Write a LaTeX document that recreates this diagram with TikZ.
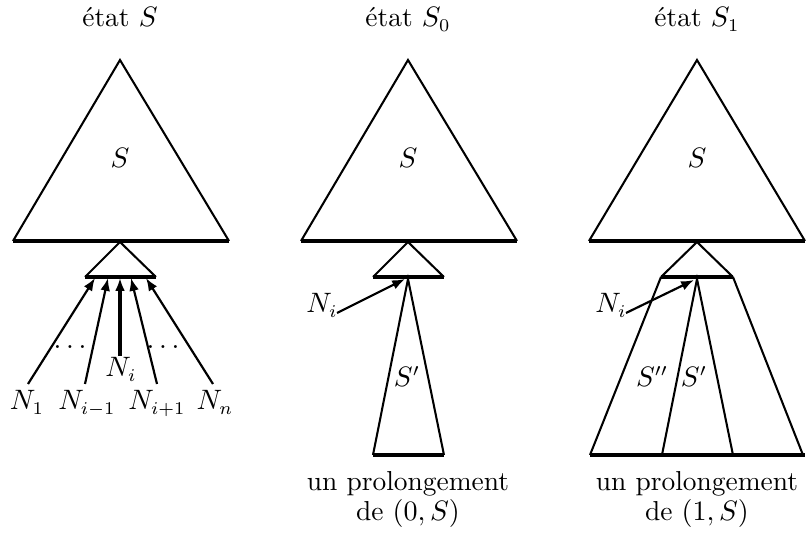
\documentclass[tikz,border=0pt]{standalone}
\usetikzlibrary{arrows.meta}
\begin{document}
\begin{tikzpicture}[x=0.39pt,y=-0.39pt,
  font=\fontsize{10.7}{13}\selectfont,
  edge/.style={line width=0.8pt,line join=miter},
  basel/.style={line width=1.5pt},
  arr/.style={line width=0.85pt,-{Latex[length=5pt,width=3.8pt]}},
  lbl/.style={inner sep=0pt,anchor=base}]
\useasboundingbox (0,0) rectangle (806,540);

% ---------- panel 1 ----------
\node[lbl] (t1) at (120,27) {état $S$};
\coordinate (A1) at (120,60);
\coordinate (L1) at (13,241);
\coordinate (R1) at (229,241);
\draw[edge] (L1) -- (A1) -- (R1);
\draw[basel] (L1) -- (R1);
\node[lbl] (S1) at (120,168) {$S$};
\coordinate (a1) at (120,242);
\coordinate (l1) at (85,277);
\coordinate (r1) at (156,277);
\draw[edge] (l1) -- (a1) -- (r1);
\draw[basel] (l1) -- (r1);
\node[lbl] (n1) at (27,410) {$N_1$};
\node[lbl] (n2) at (87,410) {$N_{i-1}$};
\node[lbl] (n3) at (121,377) {$N_i$};
\node[lbl] (n4) at (157,410) {$N_{i+1}$};
\node[lbl] (n5) at (215,410) {$N_n$};
\coordinate (s1) at (28,384);
\coordinate (s2) at (85,384);
\coordinate (s3) at (120,356);
\coordinate (s4) at (157,384);
\coordinate (s5) at (213,384);
\coordinate (e1) at (95,278);
\coordinate (e2) at (108,278);
\coordinate (e3) at (120,278);
\coordinate (e4) at (131,278);
\coordinate (e5) at (146,278);
\draw[arr] (s1) -- (e1);
\draw[arr] (s2) -- (e2);
\draw[arr,line width=1.2pt] (s3) -- (e3);
\draw[arr] (s4) -- (e4);
\draw[arr] (s5) -- (e5);
\node[lbl] (d1) at (70,349) {$\ldots$};
\node[lbl] (d2) at (163,349) {$\ldots$};

% ---------- panel 2 ----------
\node[lbl] (t2) at (408,27) {état $S_0$};
\coordinate (A2) at (408,60);
\coordinate (L2) at (301,241);
\coordinate (R2) at (517,241);
\draw[edge] (L2) -- (A2) -- (R2);
\draw[basel] (L2) -- (R2);
\node[lbl] (S2) at (408,168) {$S$};
\coordinate (a2) at (408,242);
\coordinate (l2) at (373,277);
\coordinate (r2) at (444,277);
\draw[edge] (l2) -- (a2) -- (r2);
\draw[basel] (l2) -- (r2);
\coordinate (p2) at (408,279);
\coordinate (bl2) at (373,455);
\coordinate (br2) at (444,455);
\draw[edge] (bl2) -- (p2) -- (br2);
\draw[basel] (bl2) -- (br2);
\node[lbl] (Sp2) at (407,387) {$S'$};
\node[lbl] (ni2) at (322,313) {$N_i$};
\coordinate (s6) at (337,313);
\coordinate (e6) at (405,279);
\draw[arr] (s6) -- (e6);
\node[lbl] (u2) at (408,491) {un prolongement};
\node[lbl] (v2) at (408,521) {de $(0,S)$};

% ---------- panel 3 ----------
\node[lbl] (t3) at (697,27) {état $S_1$};
\coordinate (A3) at (697,60);
\coordinate (L3) at (589,241);
\coordinate (R3) at (805,241);
\draw[edge] (L3) -- (A3) -- (R3);
\draw[basel] (L3) -- (R3);
\node[lbl] (S3) at (697,168) {$S$};
\coordinate (a3) at (697,242);
\coordinate (l3) at (661,277);
\coordinate (r3) at (733,277);
\draw[edge] (l3) -- (a3) -- (r3);
\draw[basel] (l3) -- (r3);
\coordinate (p3) at (697,279);
\coordinate (bl3) at (590,455);
\coordinate (bm3) at (662,455);
\coordinate (bn3) at (733,455);
\coordinate (br3) at (803,455);
\coordinate (bx3) at (805,455);
\draw[edge] (l3) -- (bl3);
\draw[edge] (r3) -- (br3);
\draw[edge] (bm3) -- (p3) -- (bn3);
\draw[basel] (bl3) -- (bx3);
\node[lbl] (Spp3) at (652,387) {$S''$};
\node[lbl] (Sp3) at (694,387) {$S'$};
\node[lbl] (ni3) at (611,313) {$N_i$};
\coordinate (s7) at (626,313);
\coordinate (e7) at (694,280);
\draw[arr] (s7) -- (e7);
\node[lbl] (u3) at (697,491) {un prolongement};
\node[lbl] (v3) at (697,521) {de $(1,S)$};
\end{tikzpicture}
\end{document}
